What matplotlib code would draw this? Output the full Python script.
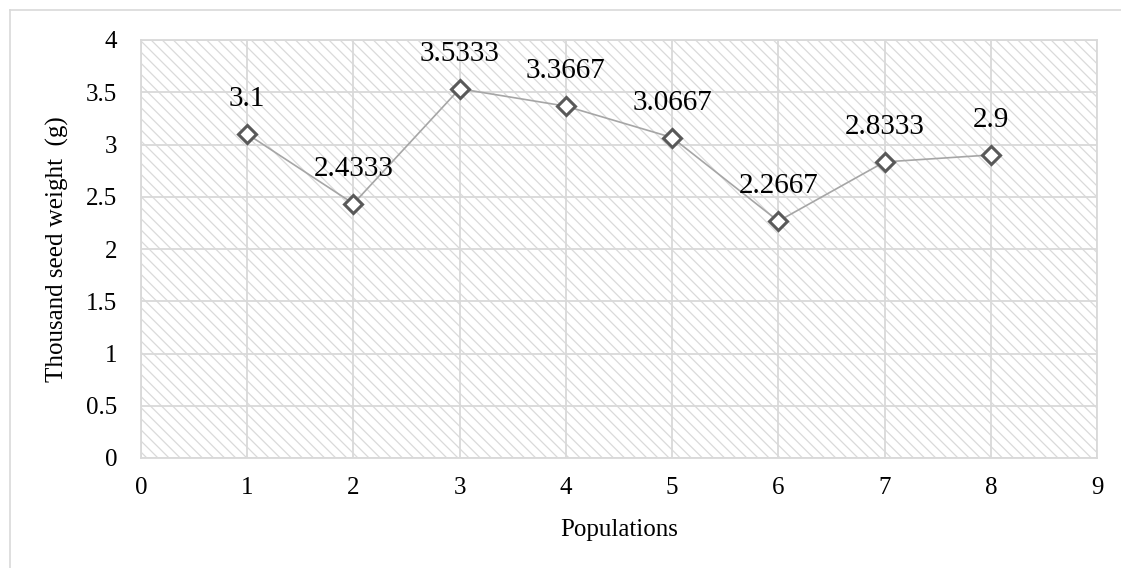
import matplotlib.pyplot as plt
from matplotlib.patches import Rectangle
from matplotlib.lines import Line2D

plt.rcParams['font.family'] = ['Liberation Serif', 'DejaVu Serif']
plt.rcParams['hatch.linewidth'] = 0.9
plt.rcParams['hatch.color'] = '#dadada'

populations = [1, 2, 3, 4, 5, 6, 7, 8]
seed_weight = [3.1, 2.4333, 3.5333, 3.3667, 3.0667, 2.2667, 2.8333, 2.9]
labels = ['3.1', '2.4333', '3.5333', '3.3667', '3.0667', '2.2667', '2.8333', '2.9']

W, H = 1121, 568
fig = plt.figure(figsize=(W / 100, H / 100), dpi=100)
ax = fig.add_axes([141 / W, 1 - 458 / H, (1097 - 141) / W, (458 - 40) / H])

# hatched plot area
ax.add_patch(Rectangle((0, 0), 1, 1, transform=ax.transAxes, facecolor='white',
                       edgecolor='#dadada', hatch='\\\\\\', linewidth=0, zorder=0))

ax.plot(populations, seed_weight, color='#a6a6a6', linewidth=1.2, zorder=3,
        marker='D', markersize=9.5, markerfacecolor='white',
        markeredgecolor='#595959', markeredgewidth=2.2)

for x, y, s in zip(populations, seed_weight, labels):
    ax.annotate(s, (x, y), xytext=(0, 25), textcoords='offset points',
                ha='center', va='center', fontsize=21, color='black', zorder=4)

ax.set_xlim(0, 9)
ax.set_ylim(0, 4)
ax.set_xticks(range(0, 10))
ax.set_yticks([0, 0.5, 1, 1.5, 2, 2.5, 3, 3.5, 4])
ax.set_yticklabels(['0', '0.5', '1', '1.5', '2', '2.5', '3', '3.5', '4'])
ax.grid(True, color='#d9d9d9', linewidth=1.3, zorder=1)
ax.set_axisbelow(True)
for sp in ax.spines.values():
    sp.set_color('#d9d9d9')
    sp.set_linewidth(1.3)
ax.tick_params(length=0, labelsize=18)
ax.tick_params(axis='y', pad=17)
ax.tick_params(axis='x', pad=14)

ax.set_xlabel('Populations', fontsize=18, labelpad=14)
ax.set_ylabel('Thousand seed weight  (g)', fontsize=18, labelpad=12)

# outer chart border
fig.add_artist(Line2D([10 / W, 10 / W], [0, 1 - 10 / H], color='#d9d9d9', linewidth=1.2))
fig.add_artist(Line2D([10 / W, 1], [1 - 10 / H, 1 - 10 / H], color='#d9d9d9', linewidth=1.2))

fig.savefig('out.png', dpi=100)
